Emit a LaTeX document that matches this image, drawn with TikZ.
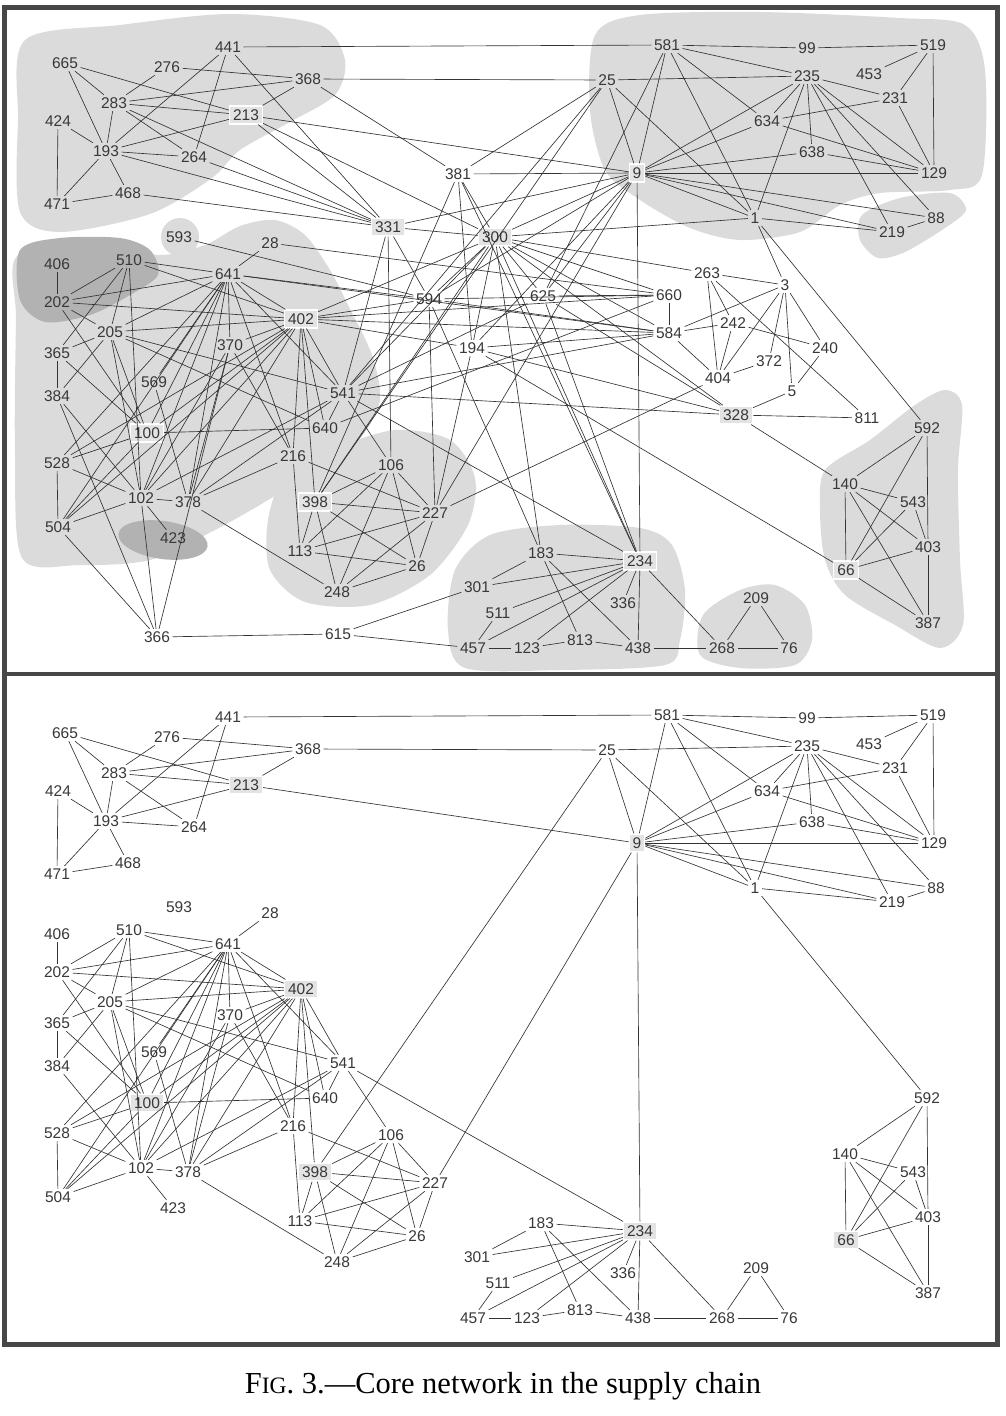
\documentclass[tikz,border=0pt]{standalone}
\usepackage{fontspec}
\setmainfont{Liberation Serif}
\setsansfont{Liberation Sans}
\usepackage{tikz}
\tikzset{every picture/.style={x=1pt,y=-1pt}}
\tikzset{
  lbl/.style={font=\sffamily\fontsize{15.5}{17}\selectfont, text=black!78, inner sep=2.5pt},
  hub/.style={lbl, fill=black!11, draw=white, line width=1.2pt, inner sep=3.5pt},
  link/.style={black!80, line width=0.65pt},
  blob/.style={fill=black!14},
  darkblob/.style={fill=black!30},
  frame/.style={black!72, line width=5pt}
}

% nodes that both panels show
\def\corenodes{441/228/47, 665/65/63, 276/167/67, 368/308/79, 283/114/103,
  424/58/121, 193/106/151, 264/194/157, 468/128/193, 471/57/204,
  593/179/237, 28/270/243, 406/57/264, 510/129/260, 641/228/274,
  202/57/302, 205/110/332, 365/57/353, 370/230/345, 569/154/382,
  384/57/396, 640/325/428, 528/57/463, 216/293/456, 102/141/498,
  378/188/502, 504/58/527, 423/173/538, 113/300/551, 541/343/393,
  581/667/45, 25/607/80, 99/807/48, 519/933/45, 235/807/76,
  453/869/74, 231/895/98, 634/767/121, 638/812/152, 129/934/173,
  1/755/218, 88/936/218, 219/892/232, 592/927/428, 140/845/484,
  543/913/502, 403/928/547, 209/756/598, 387/928/623, 268/722/648,
  76/789/648, 106/391/465, 227/435/513, 26/417/566, 248/337/592,
  183/541/553, 301/477/587, 511/498/613, 336/623/603, 457/473/648,
  123/527/648, 813/580/640, 438/638/648}
\def\corehubs{213/246/115, 9/637/173, 402/301/319, 100/147/433,
  398/315/502, 234/640/561, 66/846/570}
% nodes of the upper panel only
\def\extranodes{381/458/174, 594/429/299, 625/543/296, 660/669/295,
  584/669/333, 263/707/273, 3/785/285, 242/733/323, 240/825/348,
  372/769/361, 404/718/378, 5/792/391, 811/867/418, 194/472/348,
  366/157/637, 615/338/634}
\def\extrahubs{331/388/227, 300/495/237, 328/736/415}

% links that both panels show
\def\corelinks{441/581, 441/193, 441/264, 665/213, 665/283, 665/193,
  276/368, 276/283, 283/368, 283/213, 283/193, 283/264, 368/213, 368/25,
  213/9, 424/193, 424/471, 193/213, 193/264, 193/471, 193/468, 471/468,
  581/99, 99/519, 581/235, 581/9, 581/1, 581/634, 25/235, 25/9, 25/1,
  25/398, 235/9, 235/634, 235/638, 235/1, 235/219, 235/88, 235/129,
  235/231, 519/453, 519/231, 519/129, 231/634, 231/129, 634/9, 634/129,
  638/9, 638/129, 9/129, 9/1, 9/219, 9/88, 1/219, 219/88, 1/592, 9/234,
  9/227, 28/641, 406/202, 510/641, 510/402, 510/202, 510/365, 510/205,
  510/102, 202/641, 202/402, 202/205, 202/100, 365/384, 365/205, 365/100,
  384/205, 384/102, 205/402, 205/641, 205/100, 205/102, 205/541, 205/640,
  528/504, 528/102, 528/100, 504/102, 504/100, 102/378, 102/423,
  641/569, 641/102, 641/378, 641/370, 641/216, 641/541, 641/402, 641/528,
  641/504, 641/100, 402/370, 402/100, 402/102, 402/378, 402/528, 402/504,
  402/398, 402/541, 402/640, 402/216, 370/378, 370/102, 370/216, 569/378,
  100/640, 102/541, 378/541, 378/216, 378/248, 541/640, 541/106, 541/234,
  216/113, 216/227, 398/113, 398/248, 398/26, 398/227, 398/106, 106/227,
  106/26, 106/113, 106/248, 227/113, 227/248, 227/26, 113/26, 248/26,
  183/234, 183/301, 183/813, 183/438, 301/234, 511/234, 511/457, 457/234,
  457/123, 123/234, 123/813, 813/438, 438/234, 336/234, 234/268, 438/268,
  268/209, 268/76, 209/76, 592/140, 592/66, 592/403, 140/543, 140/403,
  140/66, 140/387, 543/66, 543/403, 66/403, 66/387, 403/387}
% links of the upper panel only
\def\extralinks{441/331, 213/331, 213/300, 283/331, 264/331, 193/331,
  468/331, 368/381, 381/9, 381/25, 381/300, 381/194, 381/398, 381/234,
  331/9, 331/300, 331/594, 331/541, 331/106, 300/9, 300/1, 300/263,
  300/660, 300/584, 300/328, 300/594, 300/625, 300/402, 300/541, 300/194,
  300/183, 300/234, 300/398, 594/593, 594/641, 594/402, 594/660, 594/584,
  594/227, 594/183, 594/9, 28/660, 625/9, 625/581, 625/660, 625/234,
  625/541, 625/328, 194/402, 194/584, 194/328, 194/66, 194/227, 194/9,
  584/660, 584/242, 584/3, 584/404, 584/402, 584/541, 584/641, 660/402,
  640/660, 263/3, 263/404, 263/242, 263/811, 3/1, 3/404, 3/372, 3/5,
  3/240, 242/240, 404/242, 404/372, 404/227, 5/240, 5/328, 328/811,
  328/140, 328/541, 366/504, 366/384, 366/102, 366/370, 366/615,
  615/301, 615/457, 25/541}

\begin{document}
\begin{tikzpicture}
    \useasboundingbox (0,0) rectangle (1006,1416);

    % Shaded groups of the upper panel
    \fill[blob] plot[smooth cycle] coordinates {(25,40) (120,25) (230,14)
      (320,25) (345,60) (335,95) (290,122) (240,150) (212,178) (150,214)
      (60,232) (20,212) (18,120)};
    \fill[blob] plot[smooth cycle] coordinates {(595,35) (640,15) (760,12)
      (900,18) (965,25) (985,70) (982,175) (950,190) (880,193) (840,205)
      (800,232) (740,240) (690,228) (640,200) (605,170) (590,110)};
    \fill[blob] plot[smooth cycle] coordinates {(862,215) (900,198)
      (950,193) (966,210) (945,228) (905,252) (878,258) (860,240)};
    \fill[blob] (180,237) circle (19);
    \fill[blob] plot[smooth cycle] coordinates {(18,255) (100,245)
      (160,255) (205,245) (240,226) (275,220) (305,235) (330,270)
      (348,305) (372,355) (380,400) (362,436) (333,457) (273,497)
      (215,530) (150,560) (80,565) (22,558) (15,450) (16,320)};
    \fill[darkblob] plot[smooth cycle] coordinates {(20,250) (60,238)
      (120,238) (150,250) (158,275) (130,295) (90,315) (45,322) (20,300)};
    \fill[darkblob, rotate around={-8:(163,540)}] (163,540) ellipse (45 and 19);
    \fill[blob] plot[smooth cycle] coordinates {(268,520) (285,475)
      (330,450) (395,430) (450,440) (475,478) (468,525) (430,575)
      (370,605) (305,602) (270,570)};
    \fill[blob] plot[smooth cycle] coordinates {(455,570) (490,535)
      (560,525) (640,528) (672,545) (685,590) (680,640) (665,665)
      (560,670) (465,668) (448,630)};
    \fill[blob] plot[smooth cycle] coordinates {(703,615) (740,590)
      (775,585) (805,605) (812,640) (795,665) (740,668) (700,655)};
    \fill[blob] plot[smooth cycle] coordinates {(825,470) (870,440)
      (915,405) (945,390) (962,405) (958,470) (960,560) (963,625)
      (940,648) (895,625) (845,595) (825,560) (820,510)};

    % Upper panel: full core
    \foreach \id/\px/\py in \corenodes {
        \node[lbl] (n\id) at (\px,\py) {\id};
    }
    \foreach \id/\px/\py in \extranodes {
        \node[lbl] (n\id) at (\px,\py) {\id};
    }
    \foreach \id/\px/\py in \corehubs {
        \node[hub] (n\id) at (\px,\py) {\id};
    }
    \foreach \id/\px/\py in \extrahubs {
        \node[hub] (n\id) at (\px,\py) {\id};
    }
    \foreach \a/\b in \corelinks {
        \draw[link] (n\a) -- (n\b);
    }
    \foreach \a/\b in \extralinks {
        \draw[link] (n\a) -- (n\b);
    }

    % Lower panel: same places, reduced core
    \begin{scope}[yshift=-670pt, name prefix=b-]
        \foreach \id/\px/\py in \corenodes {
            \node[lbl] (n\id) at (\px,\py) {\id};
        }
        \foreach \id/\px/\py in \corehubs {
            \node[hub] (n\id) at (\px,\py) {\id};
        }
        \foreach \a/\b in \corelinks {
            \draw[link] (n\a) -- (n\b);
        }
    \end{scope}

    % Frames
    \draw[frame] (4.5,7.5) rectangle (997.5,1344);
    \draw[frame, line width=3.5pt] (4.5,674) -- (997.5,674);

    % Caption
    \node[font=\fontsize{30.5}{33}\selectfont] (caption) at (503,1386)
        {F{\fontsize{23.5}{26}\selectfont IG}. 3.---Core network in the supply chain};
\end{tikzpicture}
\end{document}
